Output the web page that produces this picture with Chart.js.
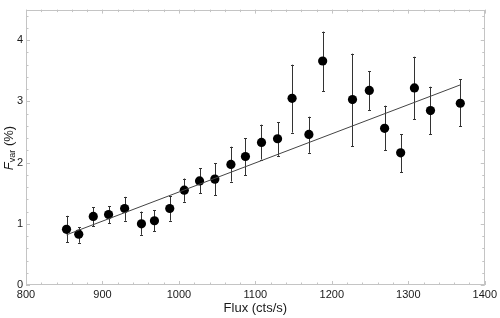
<!DOCTYPE html>
<html>
<head>
<meta charset="utf-8">
<script src="https://cdn.jsdelivr.net/npm/chart.js@4"></script>
<style>
  html, body { margin: 0; padding: 0; background: #fff; }
  #wrap { width: 500px; height: 318px; }
</style>
</head>
<body>
<div id="wrap"><canvas id="c" width="500" height="318"></canvas></div>
<script>
// ---- data ----
const flux  = [853, 869, 888, 908, 929, 951, 968, 988, 1007, 1027, 1047, 1068, 1087,
               1108, 1129, 1148, 1170, 1188, 1227, 1249, 1269, 1290, 1308, 1329, 1368];
const fvar  = [0.91, 0.83, 1.12, 1.15, 1.25, 1.00, 1.05, 1.25, 1.55, 1.70, 1.73, 1.97, 2.10,
               2.33, 2.39, 3.05, 2.46, 3.66, 3.03, 3.18, 2.56, 2.16, 3.22, 2.85, 2.97];
const errLo = [0.70, 0.69, 0.96, 1.01, 1.05, 0.82, 0.88, 1.05, 1.36, 1.50, 1.47, 1.69, 1.79,
               2.05, 2.11, 2.49, 2.16, 3.17, 2.27, 2.86, 2.20, 1.84, 2.71, 2.46, 2.59];
const errHi = [1.13, 0.94, 1.27, 1.29, 1.44, 1.20, 1.22, 1.45, 1.74, 1.91, 1.99, 2.26, 2.40,
               2.62, 2.66, 3.60, 2.75, 4.14, 3.78, 3.49, 2.93, 2.46, 3.73, 3.24, 3.36];
const fitX  = [853, 1368];
const fitY  = [0.82, 3.27];
const xTicks = [800, 900, 1000, 1100, 1200, 1300, 1400];
const yTicks = [0, 1, 2, 3, 4];
const xMinorStep = 20;
const yMinorStep = 0.2;

const FONT = "'Liberation Sans', Arial, sans-serif";
const TXT = "#1a1a1a";

// error bars + frame + inward ticks + y title
const decor = {
  id: "decor",
  beforeDatasetsDraw(chart) {
    const ctx = chart.ctx, xs = chart.scales.x, ys = chart.scales.y;
    ctx.save();
    ctx.strokeStyle = "#333";
    ctx.lineWidth = 1;
    flux.forEach((f, i) => {
      const px = Math.round(xs.getPixelForValue(f)) + 0.5;
      const y1 = ys.getPixelForValue(errLo[i]);
      const y2 = ys.getPixelForValue(errHi[i]);
      ctx.beginPath();
      ctx.moveTo(px, y1); ctx.lineTo(px, y2);
      ctx.moveTo(px - 1.5, Math.round(y1) + 0.5); ctx.lineTo(px + 1.5, Math.round(y1) + 0.5);
      ctx.moveTo(px - 1.5, Math.round(y2) + 0.5); ctx.lineTo(px + 1.5, Math.round(y2) + 0.5);
      ctx.stroke();
    });
    ctx.restore();
  },
  afterDraw(chart) {
    const ctx = chart.ctx, a = chart.chartArea, xs = chart.scales.x, ys = chart.scales.y;
    ctx.save();
    ctx.strokeStyle = "#c4c4c4";
    ctx.lineWidth = 1;
    ctx.strokeRect(Math.round(a.left) + 0.5, Math.round(a.top) + 0.5,
                   Math.round(a.right - a.left) - 1, Math.round(a.bottom - a.top) - 1);
    ctx.beginPath();
    for (let v = xs.min; v <= xs.max + 1e-6; v += xMinorStep) {
      const px = Math.round(xs.getPixelForValue(v)) + 0.5;
      const len = xTicks.includes(Math.round(v)) ? 4 : 2.5;
      ctx.moveTo(px, a.bottom); ctx.lineTo(px, a.bottom - len);
      ctx.moveTo(px, a.top); ctx.lineTo(px, a.top + len);
    }
    for (let v = ys.min; v <= ys.max + 1e-6; v += yMinorStep) {
      const py = Math.round(ys.getPixelForValue(v)) + 0.5;
      const major = Math.abs(v - Math.round(v)) < 1e-6;
      const len = major ? 4 : 2.5;
      ctx.moveTo(a.left, py); ctx.lineTo(a.left + len, py);
      ctx.moveTo(a.right, py); ctx.lineTo(a.right - len, py);
    }
    ctx.stroke();

    // y axis title: F_var (%)
    ctx.translate(9, 148);
    ctx.rotate(-Math.PI / 2);
    ctx.fillStyle = TXT;
    ctx.textBaseline = "middle";
    const big = "13px " + FONT, ital = "italic 13px " + FONT, small = "9px " + FONT;
    ctx.font = ital; const wF = ctx.measureText("F").width;
    ctx.font = small; const wV = ctx.measureText("var").width;
    ctx.font = big; const wP = ctx.measureText(" (%)").width;
    let x = -(wF + wV + wP) / 2;
    ctx.font = ital; ctx.textAlign = "left"; ctx.fillText("F", x, 0); x += wF;
    ctx.font = small; ctx.fillText("var", x, 3.5); x += wV;
    ctx.font = big; ctx.fillText(" (%)", x, 0);
    ctx.restore();
  }
};

new Chart(document.getElementById("c"), {
  data: {
    datasets: [
      {
        type: "line",
        data: fitX.map((x, i) => ({ x, y: fitY[i] })),
        borderColor: "#444",
        borderWidth: 1,
        pointRadius: 0,
        fill: false
      },
      {
        type: "scatter",
        data: flux.map((x, i) => ({ x, y: fvar[i] })),
        backgroundColor: "#000",
        borderColor: "#000",
        borderWidth: 0,
        pointRadius: 4.6
      }
    ]
  },
  options: {
    responsive: false,
    animation: false,
    layout: { padding: { left: 0, right: 13, top: 0, bottom: 0 } },
    plugins: { legend: { display: false }, tooltip: { enabled: false } },
    scales: {
      x: {
        type: "linear",
        min: 800, max: 1400,
        grid: { display: false, drawTicks: false },
        border: { display: false },
        afterBuildTicks: s => { s.ticks = xTicks.map(v => ({ value: v })); },
        afterFit: s => { s.height = 33; },
        ticks: {
          color: TXT, font: { family: FONT, size: 11 }, padding: 3, maxRotation: 0,
          callback: v => String(v)
        },
        title: {
          display: true, text: "Flux (cts/s)", color: TXT,
          font: { family: FONT, size: 13 }, padding: { top: 0, bottom: 2 }
        }
      },
      y: {
        type: "linear",
        min: 0, max: 4.5,
        grid: { display: false, drawTicks: false },
        border: { display: false },
        afterBuildTicks: s => { s.ticks = yTicks.map(v => ({ value: v })); },
        afterFit: s => { s.width = 26; },
        ticks: { color: TXT, font: { family: FONT, size: 11 }, padding: 3, callback: v => String(v) }
      }
    }
  },
  plugins: [decor]
});
</script>
</body>
</html>
